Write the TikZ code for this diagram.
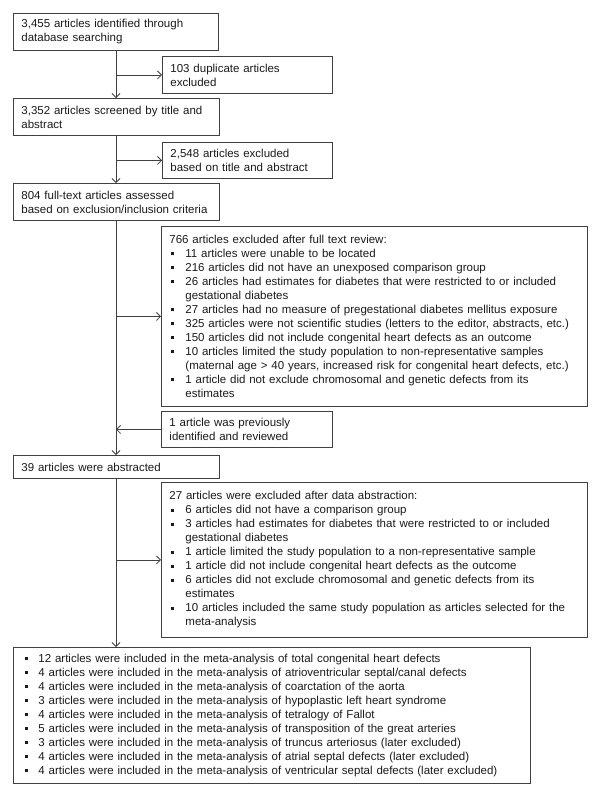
\documentclass[tikz,border=0pt]{standalone}
\usepackage{fontspec}
\setmainfont{Liberation Sans}
\usetikzlibrary{arrows.meta}
\definecolor{ln}{HTML}{404040}
\definecolor{tx}{HTML}{1A1A1A}
\newcommand{\bul}{\rule[2.2pt]{3pt}{3pt}}
\newcommand{\bi}[1]{\makebox[16pt][l]{\hspace{1.5pt}\bul}#1}
\newcommand{\bc}[1]{\hspace{16pt}#1}
\newcommand{\bj}[1]{\makebox[17pt][l]{\hspace{3.5pt}\bul}#1}
\begin{document}
\begin{tikzpicture}[x=1pt,y=-1pt,
 box/.style={draw=ln, line width=0.9pt, anchor=north west, align=left, inner xsep=8pt, inner ysep=0pt, text=tx, font=\fontsize{11.5}{14}\selectfont},
 arr/.style={draw=ln, line width=0.8pt, -{Straight Barb[length=4pt,width=8pt]}}]
\useasboundingbox (0,0) rectangle (601,798);
\coordinate (sp) at (116,0);
\node[box, minimum width=205pt, minimum height=37pt, text width=189pt] (b1) at (13,13) {3,455 articles identified through\\database searching};
\node[box, minimum width=170pt, minimum height=37pt, text width=154pt] (b2) at (162,56) {103 duplicate articles\\excluded};
\node[box, minimum width=206pt, minimum height=37pt, text width=190pt] (b3) at (13,98) {3,352 articles screened by title and\\abstract};
\node[box, minimum width=170pt, minimum height=36pt, text width=154pt] (b4) at (162,142) {2,548 articles excluded\\based on title and abstract};
\node[box, minimum width=206pt, minimum height=37pt, text width=190pt] (b5) at (13,183) {804 full-text articles assessed\\based on exclusion/inclusion criteria};
\node[box, minimum width=426pt, minimum height=180pt, text width=410pt] (b6) at (161,226) {766 articles excluded after full text review:\\
\bi{11 articles were unable to be located}\\
\bi{216 articles did not have an unexposed comparison group}\\
\bi{26 articles had estimates for diabetes that were restricted to or included}\\
\bc{gestational diabetes}\\
\bi{27 articles had no measure of pregestational diabetes mellitus exposure}\\
\bi{325 articles were not scientific studies (letters to the editor, abstracts, etc.)}\\
\bi{150 articles did not include congenital heart defects as an outcome}\\
\bi{10 articles limited the study population to non-representative samples}\\
\bc{(maternal age > 40 years, increased risk for congenital heart defects, etc.)}\\
\bi{1 article did not exclude chromosomal and genetic defects from its}\\
\bc{estimates}};
\node[box, minimum width=171pt, minimum height=36pt, text width=155pt] (b7) at (161,411) {1 article was previously\\identified and reviewed};
\node[box, minimum width=206pt, minimum height=23pt, text width=190pt] (b8) at (13,455) {39 articles were abstracted};
\node[box, minimum width=426pt, minimum height=155pt, text width=410pt] (b9) at (161,482) {27 articles were excluded after data abstraction:\\
\bi{6 articles did not have a comparison group}\\
\bi{3 articles had estimates for diabetes that were restricted to or included}\\
\bc{gestational diabetes}\\
\bi{1 article limited the study population to a non-representative sample}\\
\bi{1 article did not include congenital heart defects as the outcome}\\
\bi{6 articles did not exclude chromosomal and genetic defects from its}\\
\bc{estimates}\\
\bi{10 articles included the same study population as articles selected for the}\\
\bc{meta-analysis}};
\node[box, minimum width=517pt, minimum height=136pt, text width=501pt] (b10) at (13,647) {\bj{12 articles were included in the meta-analysis of total congenital heart defects}\\
\bj{4 articles were included in the meta-analysis of atrioventricular septal/canal defects}\\
\bj{4 articles were included in the meta-analysis of coarctation of the aorta}\\
\bj{3 articles were included in the meta-analysis of hypoplastic left heart syndrome}\\
\bj{4 articles were included in the meta-analysis of tetralogy of Fallot}\\
\bj{5 articles were included in the meta-analysis of transposition of the great arteries}\\
\bj{3 articles were included in the meta-analysis of truncus arteriosus (later excluded)}\\
\bj{4 articles were included in the meta-analysis of atrial septal defects (later excluded)}\\
\bj{4 articles were included in the meta-analysis of ventricular septal defects (later excluded)}};
\draw[arr] (b1.south -| sp) -- (b3.north -| sp);
\draw[arr] (b3.south -| sp) -- (b5.north -| sp);
\draw[arr] (b5.south -| sp) -- (b8.north -| sp);
\draw[arr] (b8.south -| sp) -- (b10.north -| sp);
\draw[arr] (sp |- b2.west) -- (b2.west);
\draw[arr] (sp |- b4.west) -- (b4.west);
\draw[arr] (sp |- b6.west) -- (b6.west);
\draw[arr] (b7.west) -- (sp |- b7.west);
\draw[arr] (sp |- b9.west) -- (b9.west);
\end{tikzpicture}
\end{document}
